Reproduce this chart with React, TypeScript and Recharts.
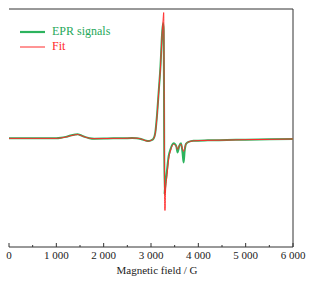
import React from 'react';
import { LineChart, Line, XAxis, YAxis, ReferenceLine, Legend } from 'recharts';

// magnetic field (G) and signal intensity (a.u.)
const field = [
  0, 500, 1000, 1100, 1200, 1300, 1400, 1450, 1500, 1600,
  1700, 1800, 2000, 2200, 2400, 2600, 2700, 2800, 2900, 2950,
  3000, 3050, 3090, 3130, 3160, 3200, 3235, 3255, 3268, 3285,
  3295, 3305, 3340, 3372, 3408, 3478, 3535, 3562, 3598, 3634,
  3668, 3689, 3710, 3740, 3795, 3900, 4200, 4600, 5000, 5500,
  6000,
];
const eprSignals = [
  0, 0, 0, 0.5, 1.5, 2.8, 3.8, 4.2, 3.4, 1.5,
  0.2, -0.3, -0.2, 0, 0, 0.3, 0.2, -0.8, -2.4, -2.7,
  -2, -0.5, 5.5, 25, 45, 72, 105, 115, 108, -56,
  -50, -46, -31, -18, -11.5, -5, -8, -14, -7.5, -5,
  -15, -24, -13, -5.5, -3.5, -2.5, -2, -1.7, -1.3, -1,
  -0.6,
];
const fit = [
  0, 0, 0, 0.4, 1.3, 2.6, 3.6, 3.9, 3.2, 1.4,
  0.1, -0.3, -0.2, 0, 0, 0.3, 0.2, -0.8, -2.5, -2.8,
  -2.1, -0.6, 5, 24, 44, 71, 104, 118, 125.6, -40,
  -72, -55, -36, -21, -13, -6, -8, -11, -7, -6,
  -11, -13, -10, -5.5, -3.5, -2.5, -2, -1.7, -1.3, -1,
  -0.6,
];
const xTicks = [0, 500, 1000, 1500, 2000, 2500, 3000, 3500, 4000, 4500, 5000, 5500, 6000];
const yDomain = [-108.5, 129.2];

const GREEN = '#2db35e';
const GREEN_TEXT = '#1fa85a';
const RED = '#ff2a2a';
const AXIS = '#333';
const FONT = '"Liberation Serif", "Times New Roman", serif';

const chartData = field.map((f, i) => ({ field: f, epr: eprSignals[i], fit: fit[i] }));

const fmt = (v: number) => (v === 0 ? '0' : `${v / 1000} 000`);

const FieldTick = (props: any) => {
  const { x, y, payload } = props;
  const major = payload.value % 1000 === 0;
  return (
    <g>
      <line x1={x} x2={x} y1={y} y2={y - (major ? 4 : 2)} stroke={AXIS} strokeWidth={1} />
      {major && (
        <text x={x} y={y + 4} dy="0.71em" textAnchor="middle" fontSize={11} fontFamily={FONT} fill="#222">
          {fmt(payload.value)}
        </text>
      )}
    </g>
  );
};

const LegendBox = () => {
  const rows = [
    { name: 'EPR signals', color: GREEN, text: GREEN_TEXT, w: 2.2 },
    { name: 'Fit', color: RED, text: RED, w: 1 },
  ];
  return (
    <div style={{ fontFamily: FONT, fontSize: 12 }}>
      {rows.map((r) => (
        <div key={r.name} style={{ display: 'flex', alignItems: 'center', height: 15 }}>
          <svg width={25} height={6} style={{ marginRight: 7 }}>
            <line x1={0} x2={25} y1={3} y2={3} stroke={r.color} strokeWidth={r.w} />
          </svg>
          <span style={{ color: r.text, lineHeight: '15px' }}>{r.name}</span>
        </div>
      ))}
    </div>
  );
};

export default function App() {
  return (
    <div style={{ position: 'absolute', left: 0, top: 0, background: '#fff' }}>
      <LineChart width={316} height={282} data={chartData} margin={{ top: 9, right: 23, left: 9, bottom: 0 }}>
        <XAxis
          dataKey="field"
          type="number"
          domain={[0, 6000]}
          ticks={xTicks}
          interval={0}
          height={35}
          tickSize={0}
          tickMargin={0}
          tickLine={false}
          tick={<FieldTick />}
          axisLine={{ stroke: AXIS }}
          label={{ value: 'Magnetic field / G', position: 'insideBottom', offset: 8, dx: 6, fontSize: 11, fontFamily: FONT, fill: '#222' }}
        />
        <YAxis domain={yDomain} allowDataOverflow type="number" width={0} tick={false} tickLine={false} axisLine={{ stroke: AXIS }} />
        <ReferenceLine y={yDomain[1]} stroke={AXIS} />
        <ReferenceLine x={6000} stroke={AXIS} />
        <Legend
          layout="horizontal"
          verticalAlign="middle"
          align="center"
          content={<LegendBox />}
          wrapperStyle={{ top: 24, left: 20, width: 'auto' }}
        />
        <Line type="monotone" dataKey="epr" stroke={GREEN} strokeWidth={2} dot={false} isAnimationActive={false} />
        <Line type="monotone" dataKey="fit" stroke={RED} strokeWidth={1} dot={false} isAnimationActive={false} />
      </LineChart>
    </div>
  );
}
